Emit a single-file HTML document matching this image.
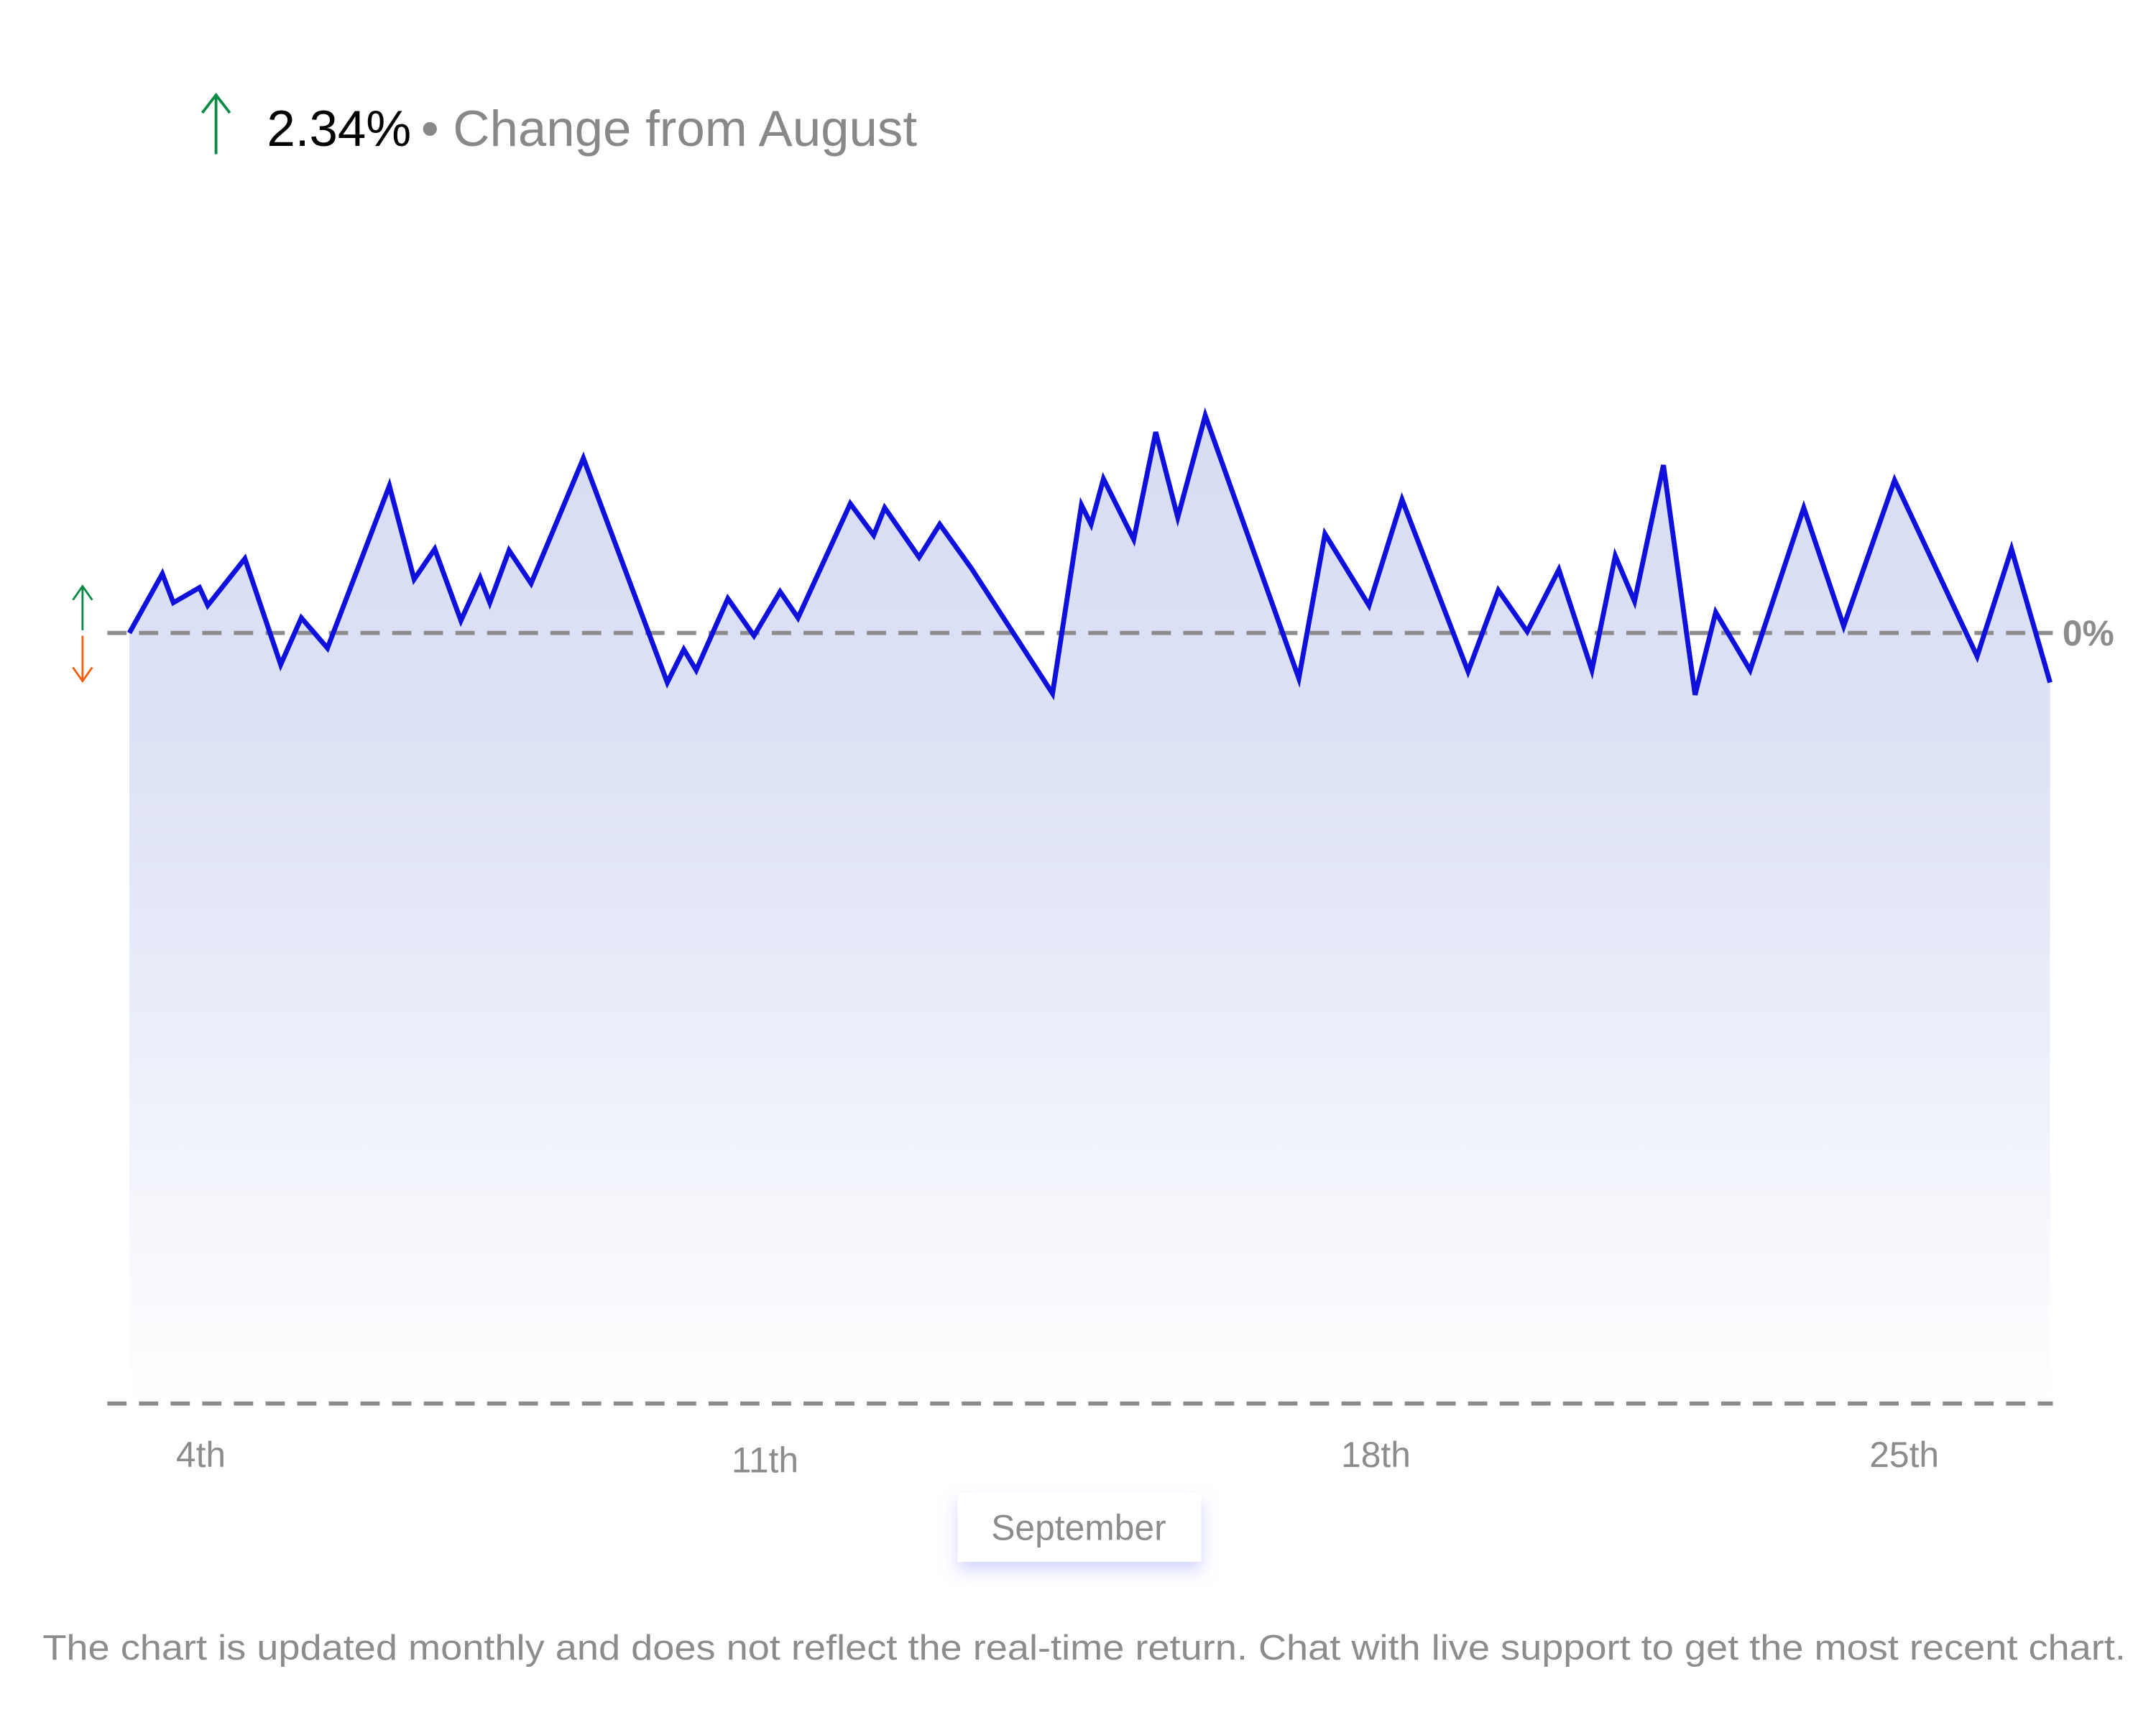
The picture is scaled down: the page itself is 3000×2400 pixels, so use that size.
<!DOCTYPE html>
<html><head><meta charset="utf-8"><style>
html,body{margin:0;padding:0;background:#fff;}
svg{display:block;}
text{font-family:"Liberation Sans",sans-serif;}
</style></head><body>
<svg width="3000" height="2400" viewBox="0 0 1567 1253.6" xmlns="http://www.w3.org/2000/svg">
<defs>
<linearGradient id="g" x1="0" y1="0" x2="0" y2="1">
<stop offset="0" stop-color="#d8dcf3"/>
<stop offset="0.35" stop-color="#dde2f5"/>
<stop offset="1" stop-color="#ffffff"/>
</linearGradient>
<filter id="sh" x="-30%" y="-60%" width="160%" height="220%"><feDropShadow dx="0" dy="6" stdDeviation="6" flood-color="#c8c8ff" flood-opacity="0.8"/></filter>
</defs>
<line x1="157" y1="70" x2="157" y2="112" stroke="#0a8a43" stroke-width="2"/>
<polyline points="147,82 157,69 167,82" fill="none" stroke="#0a8a43" stroke-width="2"/>
<text x="194" y="106" font-size="37" fill="#000">2.34%</text>
<text x="306" y="106" font-size="37" fill="#888">• Change from August</text>
<line x1="60" y1="426" x2="60" y2="458" stroke="#0a8a43" stroke-width="1.5"/>
<polyline points="53,436 60,426 67,436" fill="none" stroke="#0a8a43" stroke-width="1.5"/>
<line x1="60" y1="462" x2="60" y2="495" stroke="#f06010" stroke-width="1.5"/>
<polyline points="53,485 60,495 67,485" fill="none" stroke="#f06010" stroke-width="1.5"/>
<polygon fill="url(#g)" points="94,460 118,417 126,438 145,427 151,440 178,406 204,483 219,449 238,471 283,353 301,421 316,399 335,451 349,420 356,438 370,400 386,424 424,333 485,496 497,472 506,487 529,435 548,462 567,430 580,449 618,366 635,389 643,369 668,405 683,381 706,413 765,504 786,367 793,381 802,348 824,392 840,314 856,376 876,302 944,493 963,388 995,440 1019,363 1067,488 1089,429 1110,459 1133,414 1157,487 1174,404 1188,437 1209,338 1232,505 1247,445 1272,487 1311,369 1340,455 1377,349 1437,477 1462,399 1490,496 1490,1020 94,1020"/>
<line x1="78" y1="460" x2="1492" y2="460" stroke="#8c8c8c" stroke-width="3" stroke-dasharray="14,9"/>
<line x1="78" y1="1020" x2="1492" y2="1020" stroke="#8c8c8c" stroke-width="3" stroke-dasharray="14,9"/>
<polyline fill="none" stroke="#1010dd" stroke-width="3.6" stroke-linejoin="miter" points="94,460 118,417 126,438 145,427 151,440 178,406 204,483 219,449 238,471 283,353 301,421 316,399 335,451 349,420 356,438 370,400 386,424 424,333 485,496 497,472 506,487 529,435 548,462 567,430 580,449 618,366 635,389 643,369 668,405 683,381 706,413 765,504 786,367 793,381 802,348 824,392 840,314 856,376 876,302 944,493 963,388 995,440 1019,363 1067,488 1089,429 1110,459 1133,414 1157,487 1174,404 1188,437 1209,338 1232,505 1247,445 1272,487 1311,369 1340,455 1377,349 1437,477 1462,399 1490,496"/>
<text x="1499" y="469" font-size="26" font-weight="bold" fill="#8c8c8c">0%</text>
<text x="146" y="1066" font-size="26" fill="#8c8c8c" text-anchor="middle">4th</text>
<text x="556" y="1070" font-size="26" fill="#8c8c8c" text-anchor="middle">11th</text>
<text x="1000" y="1066" font-size="26" fill="#8c8c8c" text-anchor="middle">18th</text>
<text x="1384" y="1066" font-size="26" fill="#8c8c8c" text-anchor="middle">25th</text>
<rect x="696" y="1085" width="177" height="50" fill="#fff" filter="url(#sh)"/>
<text x="784" y="1119" font-size="26" fill="#8c8c8c" text-anchor="middle">September</text>
<text x="788" y="1206" font-size="25.5" fill="#8c8c8c" text-anchor="middle" textLength="1514" lengthAdjust="spacingAndGlyphs">The chart is updated monthly and does not reflect the real-time return. Chat with live support to get the most recent chart.</text>
</svg>
</body></html>
